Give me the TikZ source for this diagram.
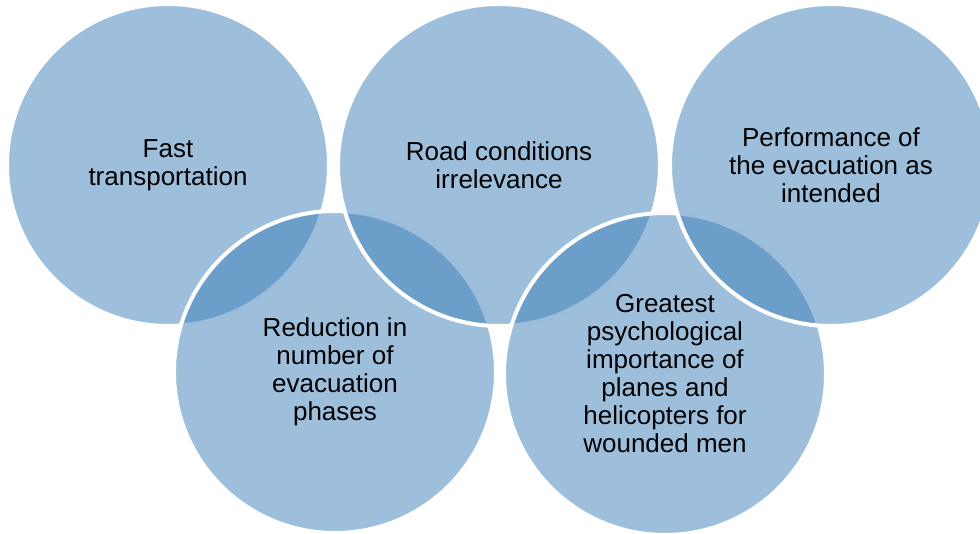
\documentclass[tikz,border=0pt]{standalone}
\usepackage{fontspec}
\setmainfont{Liberation Sans}
\usepackage{tikz}
\definecolor{bubblefill}{RGB}{59,127,183}

\begin{document}
\begin{tikzpicture}[x=1pt, y=-1pt,
        bubble/.style={circle, minimum size=322pt, inner sep=0pt,
            fill=bubblefill, fill opacity=0.5, text opacity=1,
            draw=white, line width=4pt, align=center,
            font=\fontsize{26}{28}\selectfont}]

        \useasboundingbox (0,0) rectangle (980,534);
        \clip (0,0) rectangle (980,534);

        \node[bubble] (FAST) at (168,165) {Fast\\transportation};
        \node[bubble] (RED) at (335,372) {Reduction in\\number of\\evacuation\\phases};
        \node[bubble] (ROAD) at (499,165) {Road conditions\\irrelevance};
        \node[bubble] (PSY) at (665,374) {Greatest\\psychological\\importance of\\planes and\\helicopters for\\wounded men};
        \node[bubble] (PERF) at (831,165) {Performance of\\the evacuation as\\intended};

\end{tikzpicture}
\end{document}
